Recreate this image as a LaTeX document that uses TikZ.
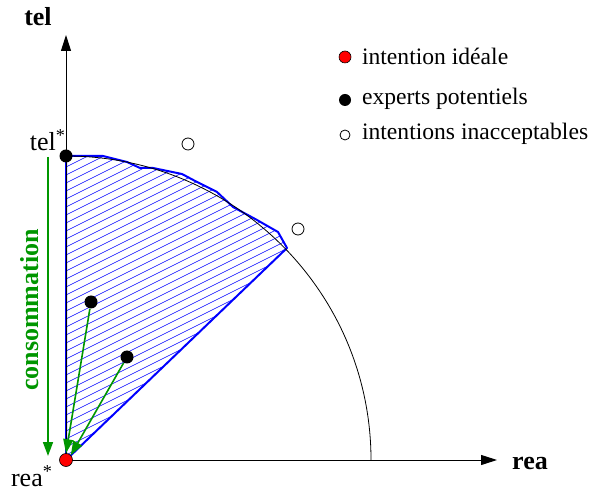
\documentclass[tikz,border=0pt]{standalone}
\usepackage{fontspec}
\setmainfont{Liberation Serif}
\usepackage{tikz}
\usetikzlibrary{arrows.meta}
\definecolor{vert}{RGB}{0,150,0}

\begin{document}
\begin{tikzpicture}[x=0.5pt,y=0.5pt,
  every node/.style={font=\fontsize{11.8}{14}\selectfont},
  expert/.style={circle,fill=black,inner sep=0pt,minimum size=6.5pt},
  ideal/.style={circle,draw=black,fill=red,inner sep=0pt,minimum size=6.5pt,line width=0.3pt},
  rejet/.style={circle,draw=black,fill=white,inner sep=0pt,minimum size=6pt,line width=0.4pt},
  axe/.style={-{Triangle[length=8pt,width=5pt]},line width=0.5pt},
  conso/.style={vert,line width=0.8pt,-{Triangle[length=7pt,width=5pt]}}]
\useasboundingbox (-66,-36) rectangle (531,460);
% zone admissible
\begin{scope}
\clip (0,0) -- (0,304) -- (37,304) -- (61,298) -- (74,292) -- (87,292) -- (116,286)
  -- (131,278) -- (151,268) -- (167,253) -- (191,240) -- (212,228) -- (221,212) -- cycle;
\foreach \k in {-200,-192,...,320}
  \draw[blue,line width=0.3pt] (-10,\k) -- ++(300,150);
\end{scope}
\draw[blue,line width=1pt,line join=round] (0,0) -- (0,304) -- (37,304) -- (61,298) -- (74,292) -- (87,292) -- (116,286)
  -- (131,278) -- (151,268) -- (167,253) -- (191,240) -- (212,228) -- (221,212) -- cycle;
\draw[line width=0.4pt] (0,304) arc[start angle=90,end angle=0,x radius=305,y radius=304];
% axes
\coordinate (O) at (0,0);
\coordinate (xmax) at (431,0);
\coordinate (ymax) at (0,425);
\draw[axe] (O) -- (xmax);
\draw[axe] (O) -- (ymax);
\node[font=\fontsize{13}{15}\selectfont\bfseries] (rea) at (464,-3) {rea};
\node[font=\fontsize{13}{15}\selectfont\bfseries] (tel) at (-28,443) {tel};
\node[font=\fontsize{13}{15}\selectfont] (telstar) at (-18,320) {tel\textsuperscript{*}};
\node[font=\fontsize{13}{15}\selectfont] (reastar) at (-34,-16) {rea\textsuperscript{*}};
% intentions
\node[expert] (e0) at (0,304) {};
\node[expert] (e1) at (25,158) {};
\node[expert] (e2) at (61,103) {};
\node[ideal] (id) at (O) {};
\node[rejet] (r1) at (122,316) {};
\node[rejet] (r2) at (232,231) {};
% consommation
\draw[conso] (e1) -- (id.north);
\draw[conso] (e2) -- (id.north east);
\coordinate (c1) at (-18,303);
\coordinate (c2) at (-18,4);
\draw[conso] (c1) -- (c2);
\node[vert,rotate=90,font=\fontsize{13}{15}\selectfont\bfseries] (lconso) at (-36,150) {consommation};
% legende
\node[ideal,minimum size=6pt] (l1) at (279,403) {};
\node[expert,minimum size=6pt] (l2) at (279,360) {};
\node[rejet,minimum size=5pt] (l3) at (279,325) {};
\node[anchor=west] (t1) at (289,404) {intention idéale};
\node[anchor=west] (t2) at (289,361) {experts potentiels};
\node[anchor=west] (t3) at (289,326) {intentions inacceptables};
\end{tikzpicture}
\end{document}
